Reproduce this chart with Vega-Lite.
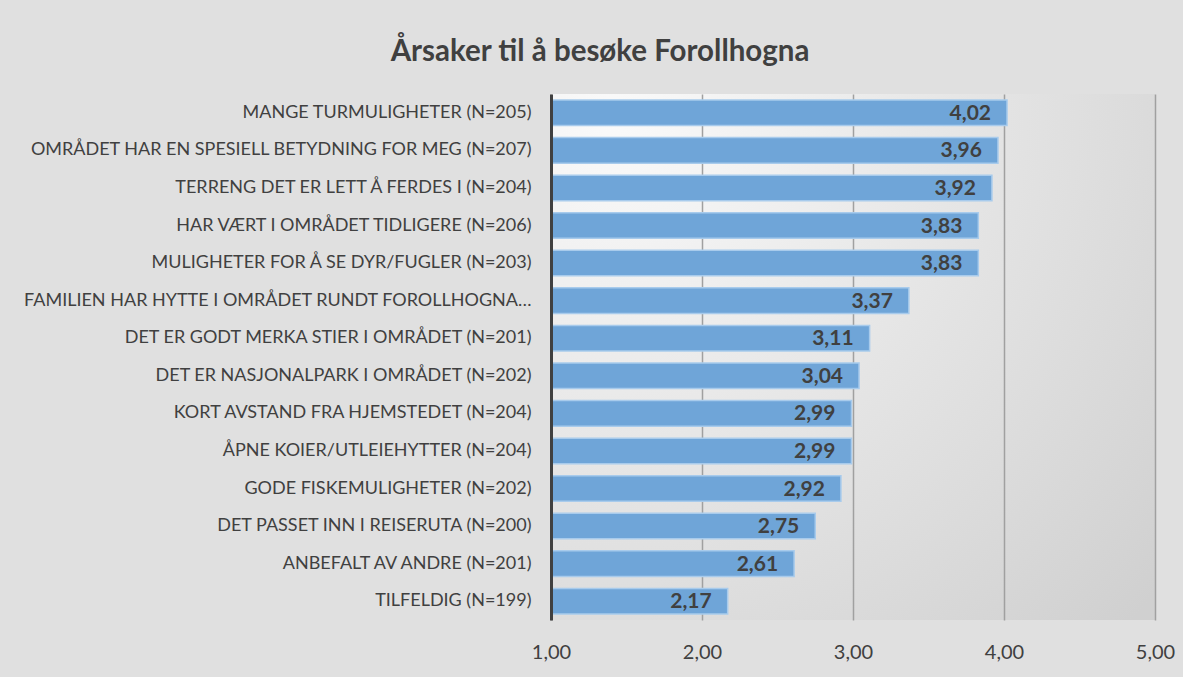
{
  "$schema": "https://vega.github.io/schema/vega-lite/v6.json",
  "width": 604,
  "height": 526,
  "autosize": {"type": "none"},
  "padding": {"left": 551, "top": 94, "right": 28, "bottom": 57},
  "background": "#e0e0e0",
  "title": {
    "text": "Årsaker til å besøke Forollhogna",
    "font": "Lato",
    "fontSize": 29.5,
    "fontWeight": "bold",
    "color": "#404040",
    "anchor": "middle",
    "dx": -253,
    "offset": 27
  },
  "config": {
    "locale": {"number": {"decimal": ",", "thousands": " ", "grouping": [3], "currency": ["", " kr"]}},
    "view": {
      "stroke": null,
      "fill": {
        "gradient": "radial",
        "x1": 0.1, "y1": 0.1, "x2": 0.1, "y2": 0.1, "r1": 0, "r2": 1.2,
        "stops": [
          {"offset": 0, "color": "#fafafa"},
          {"offset": 1, "color": "#d0d0d0"}
        ]
      }
    },
    "font": "Lato"
  },
  "data": {
    "values": [
      {"label": "MANGE TURMULIGHETER (N=205)", "value": 4.02},
      {"label": "OMRÅDET HAR EN SPESIELL BETYDNING FOR MEG (N=207)", "value": 3.96},
      {"label": "TERRENG DET ER LETT Å FERDES I (N=204)", "value": 3.92},
      {"label": "HAR VÆRT I OMRÅDET TIDLIGERE (N=206)", "value": 3.83},
      {"label": "MULIGHETER FOR Å SE DYR/FUGLER (N=203)", "value": 3.83},
      {"label": "FAMILIEN HAR HYTTE I OMRÅDET RUNDT FOROLLHOGNA…", "value": 3.37},
      {"label": "DET ER GODT MERKA STIER I OMRÅDET (N=201)", "value": 3.11},
      {"label": "DET ER NASJONALPARK I OMRÅDET (N=202)", "value": 3.04},
      {"label": "KORT AVSTAND FRA HJEMSTEDET (N=204)", "value": 2.99},
      {"label": "ÅPNE KOIER/UTLEIEHYTTER (N=204)", "value": 2.99},
      {"label": "GODE FISKEMULIGHETER (N=202)", "value": 2.92},
      {"label": "DET PASSET INN I REISERUTA (N=200)", "value": 2.75},
      {"label": "ANBEFALT AV ANDRE (N=201)", "value": 2.61},
      {"label": "TILFELDIG (N=199)", "value": 2.17}
    ]
  },
  "encoding": {
    "y": {
      "field": "label",
      "type": "nominal",
      "sort": null,
      "title": null,
      "scale": {"paddingInner": 0.32, "paddingOuter": 0.16},
      "axis": {
        "domain": true,
        "domainColor": "#404040",
        "domainWidth": 3,
        "ticks": false,
        "labelFont": "Lato",
        "labelFontSize": 18,
        "labelColor": "#404040",
        "labelPadding": 20,
        "labelLimit": 600,
        "zindex": 2
      }
    }
  },
  "layer": [
    {
      "mark": {"type": "bar", "fill": "#6fa5d8", "stroke": "#a8cbec", "strokeWidth": 1.5},
      "encoding": {
        "x": {
          "field": "value",
          "type": "quantitative",
          "scale": {"domain": [1, 5], "zero": false},
          "title": null,
          "axis": {
            "values": [1, 2, 3, 4, 5],
            "format": ".2f",
            "domain": false,
            "ticks": false,
            "grid": true,
            "gridColor": "#a0a0a0",
            "gridWidth": 1.5,
            "labelFont": "Lato",
            "labelFontSize": 20,
            "labelColor": "#404040",
            "labelFlush": false,
            "labelPadding": 22
          }
        },
        "x2": {"datum": 1}
      }
    },
    {
      "mark": {"type": "text", "align": "right", "baseline": "middle", "dx": -16, "dy": 1, "font": "Lato", "fontSize": 21, "fontWeight": "bold", "color": "#404040"},
      "encoding": {
        "x": {"field": "value", "type": "quantitative"},
        "text": {"field": "value", "type": "quantitative", "format": ".2f"}
      }
    }
  ]
}
